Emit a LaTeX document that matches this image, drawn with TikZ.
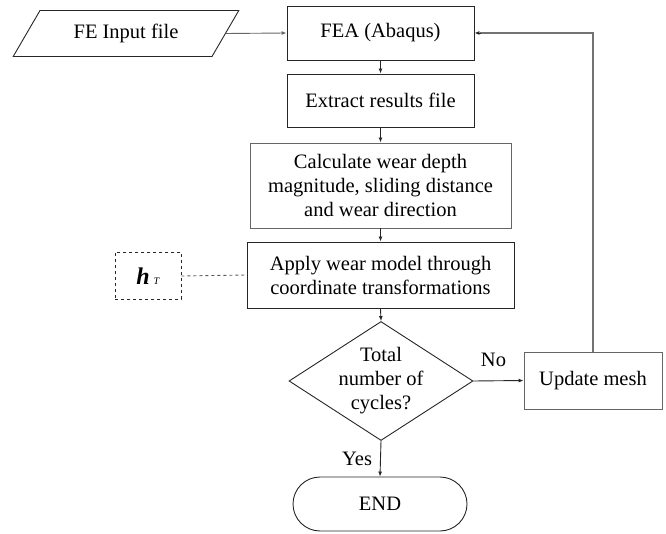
\documentclass[tikz,border=0pt]{standalone}
\usepackage{fontspec}
\setmainfont{Liberation Serif}
\usetikzlibrary{shapes.geometric,shapes.misc,arrows.meta}
\begin{document}
\begin{tikzpicture}[x=1pt,y=1pt,
  every node/.style={font=\fontsize{20.5}{24}\selectfont, inner sep=0pt, align=center},
  box/.style={draw=black!85, line width=0.9pt, rectangle},
  conn/.style={draw=black!85, line width=0.9pt, -{Latex[length=5pt,width=4pt]}},
  feed/.style={draw=black!55, line width=1.6pt},
  lbl/.style={font=\fontsize{20.5}{24}\selectfont}
]
\useasboundingbox (0,0) rectangle (666,533);
% y_tikz = 533 - y_px
\node[draw=black!85, line width=0.9pt, trapezium, trapezium left angle=49, trapezium right angle=131,
      trapezium stretches=true, minimum width=226pt, minimum height=46pt] (fe) at (126,499.5) {FE Input file};
\node[box, minimum width=187pt, minimum height=54pt] (fea) at (380.5,500) {FEA (Abaqus)};
\node[box, minimum width=187pt, minimum height=53pt] (ext) at (380.5,432.5) {Extract results file};
\node[box, draw=black!60, minimum width=261pt, minimum height=85pt] (calc) at (380.5,347.5)
  {Calculate wear depth\\magnitude, sliding distance\\and wear direction};
\node[box, minimum width=267pt, minimum height=66pt] (apply) at (380.5,258)
  {Apply wear model through\\coordinate transformations};
\node[draw=black!85, line width=0.9pt, diamond, minimum width=184pt, minimum height=119pt] (dec) at (381,152) {};
\node (dectext) at (dec.center) {Total\\number of\\cycles?};
\node[box, draw=black!60, minimum width=138pt, minimum height=57pt] (upd) at (593,152.5) {Update mesh};
\node[draw=black!85, line width=0.9pt, rounded rectangle, minimum width=174pt, minimum height=54pt] (end) at (380,29) {END};
\node[draw=black!85, line width=0.9pt, dashed, minimum width=66pt, minimum height=47pt] (ht) at (148,257)
  {\fontsize{24}{26}\selectfont\textbf{\textit{h}}\,\fontsize{10}{11}\selectfont\textit{T}};

\draw[conn, draw=black!60] (fe.east) -- (fea.west);
\draw[conn] (fea.south) -- (ext.north);
\draw[conn] (ext.south) -- (calc.north);
\draw[conn] (calc.south) -- (apply.north);
\draw[conn] (apply.south) -- (dec.north);
\draw[conn] (dec.east) -- (upd.west) node[lbl, midway, above=14pt, xshift=-5pt] {No};
\draw[conn] (dec.south) -- (end.north) node[lbl, midway, left=8pt] {Yes};
\draw[draw=black!65, line width=0.9pt, dashed] (ht.east) -- (apply.west);
\coordinate (turn) at (upd.north |- fea.east);
\draw[feed] (upd.north) -- (turn) -- ([xshift=6pt]fea.east);
\draw[conn] ([xshift=7pt]fea.east) -- (fea.east);
\end{tikzpicture}
\end{document}
